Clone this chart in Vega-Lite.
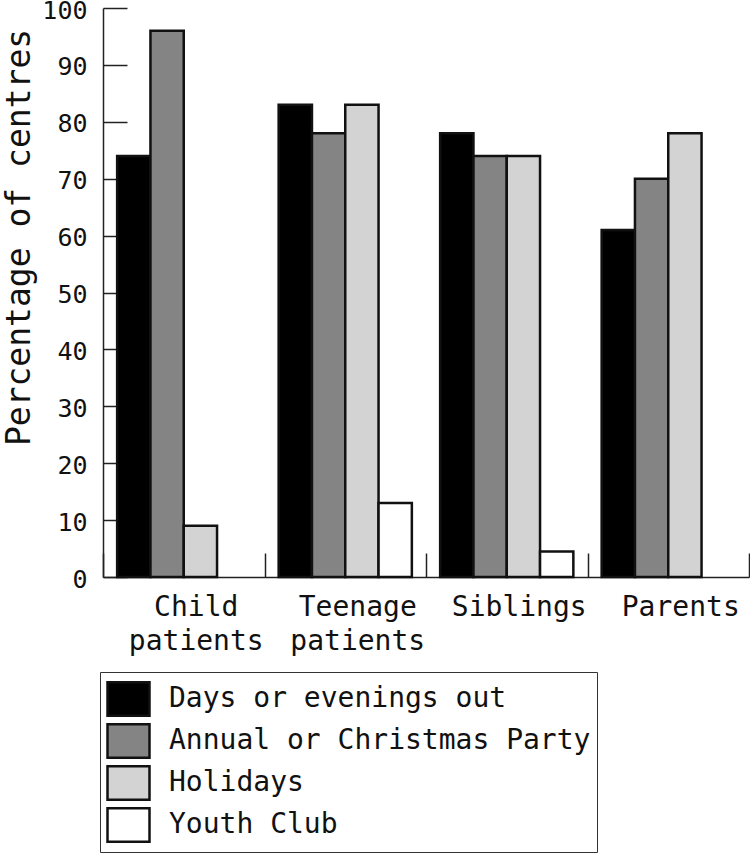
{
  "$schema": "https://vega.github.io/schema/vega-lite/v6.json",
  "autosize": "none",
  "padding": {"left": 103, "top": 8, "right": 1, "bottom": 276},
  "width": 646,
  "height": 569,
  "background": "white",
  "config": {
    "font": "DejaVu Sans Mono",
    "view": {"stroke": null}
  },
  "data": {
    "values": [
      {"group": "Child patients", "activity": "Days or evenings out", "pct": 74},
      {"group": "Child patients", "activity": "Annual or Christmas Party", "pct": 96},
      {"group": "Child patients", "activity": "Holidays", "pct": 9},
      {"group": "Teenage patients", "activity": "Days or evenings out", "pct": 83},
      {"group": "Teenage patients", "activity": "Annual or Christmas Party", "pct": 78},
      {"group": "Teenage patients", "activity": "Holidays", "pct": 83},
      {"group": "Teenage patients", "activity": "Youth Club", "pct": 13},
      {"group": "Siblings", "activity": "Days or evenings out", "pct": 78},
      {"group": "Siblings", "activity": "Annual or Christmas Party", "pct": 74},
      {"group": "Siblings", "activity": "Holidays", "pct": 74},
      {"group": "Siblings", "activity": "Youth Club", "pct": 4.5},
      {"group": "Parents", "activity": "Days or evenings out", "pct": 61},
      {"group": "Parents", "activity": "Annual or Christmas Party", "pct": 70},
      {"group": "Parents", "activity": "Holidays", "pct": 78}
    ]
  },
  "mark": {"type": "bar", "stroke": "#111111", "strokeWidth": 2.5},
  "encoding": {
    "x": {
      "field": "group",
      "type": "nominal",
      "sort": ["Child patients", "Teenage patients", "Siblings", "Parents"],
      "scale": {"paddingInner": 0, "paddingOuter": 0},
      "axis": {
        "title": null,
        "labelAngle": 0,
        "labelExpr": "split(datum.label, ' ')",
        "labelFontSize": 28,
        "labelLineHeight": 34,
        "labelColor": "#111111",
        "labelBaseline": "top",
        "labelOffset": 12,
        "labelPadding": 40,
        "tickBand": "extent",
        "tickSize": -24,
        "tickColor": "#222222",
        "tickWidth": 1.5,
        "domainColor": "#222222",
        "domainWidth": 1.5
      }
    },
    "xOffset": {
      "field": "activity",
      "type": "nominal",
      "scale": {
        "domain": ["Days or evenings out", "Annual or Christmas Party", "Holidays", "Youth Club"],
        "paddingInner": 0,
        "paddingOuter": 0.425
      }
    },
    "y": {
      "field": "pct",
      "type": "quantitative",
      "scale": {"domain": [0, 100], "nice": false},
      "axis": {
        "title": "Percentage of centres",
        "titleFontSize": 33,
        "titleFontWeight": "normal",
        "titleColor": "#111111",
        "titleAngle": -90,
        "titleX": -84,
        "titleY": 229,
        "titleAlign": "center",
        "titleBaseline": "middle",
        "values": [0, 10, 20, 30, 40, 50, 60, 70, 80, 90, 100],
        "grid": false,
        "labelFontSize": 25,
        "labelColor": "#111111",
        "labelPadding": 40,
        "labelOffset": 2,
        "labelFlush": false,
        "tickSize": -24,
        "tickColor": "#222222",
        "tickWidth": 1.5,
        "domainColor": "#222222",
        "domainWidth": 1.5
      }
    },
    "fill": {
      "field": "activity",
      "type": "nominal",
      "scale": {
        "domain": ["Days or evenings out", "Annual or Christmas Party", "Holidays", "Youth Club"],
        "range": ["#000000", "#848484", "#d3d3d3", "#ffffff"]
      },
      "legend": {
        "title": null,
        "orient": "none",
        "legendX": -3,
        "legendY": 664,
        "strokeColor": "#333333",
        "padding": 6,
        "symbolType": "M-1,-0.8H1V0.8H-1Z",
        "symbolSize": 1764,
        "symbolStrokeColor": "#111111",
        "symbolStrokeWidth": 2.5,
        "labelFontSize": 28,
        "labelColor": "#111111",
        "labelOffset": 18,
        "labelLimit": 0,
        "clipHeight": 42,
        "rowPadding": 0
      }
    }
  }
}
